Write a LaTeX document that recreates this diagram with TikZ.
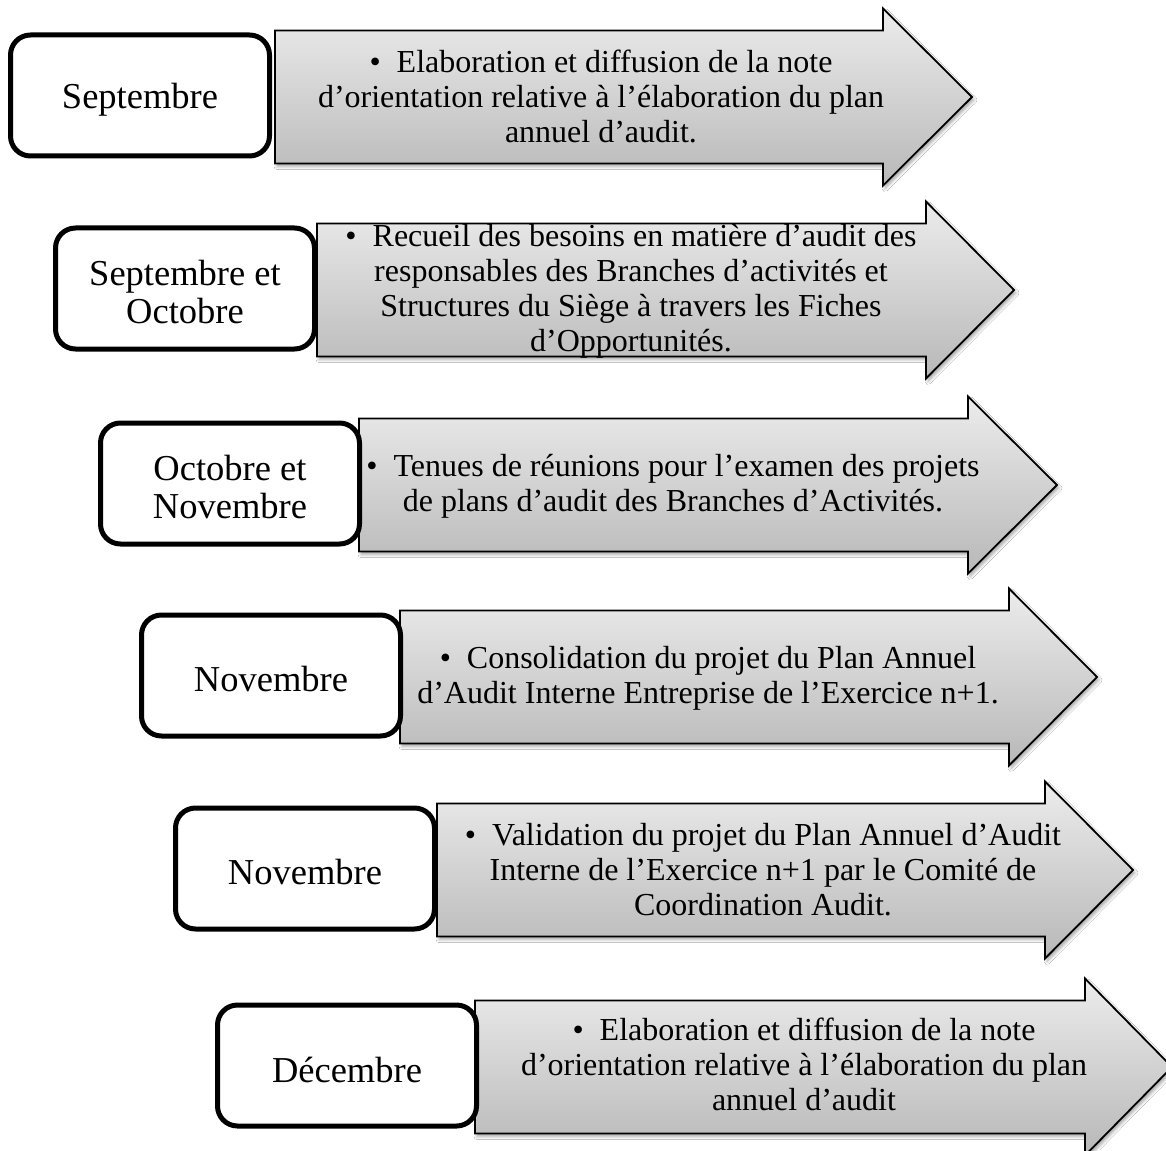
\documentclass[tikz,border=0pt]{standalone}
\usepackage{fontspec}
\setmainfont{Liberation Serif}
\usetikzlibrary{shadows.blur}

\definecolor{arrowtop}{RGB}{236,236,236}
\definecolor{arrowbot}{RGB}{184,184,184}

\tikzset{
  monthbox/.style={draw=black, line width=5pt, rounded corners=20pt, fill=white,
    minimum width=259pt, minimum height=121pt, inner sep=0pt},
  monthtext/.style={align=center, inner sep=0pt,
    font=\fontsize{36.5}{38}\selectfont},
  arrowshape/.style={draw=black, line width=1.8pt, line join=miter,
    top color=arrowtop, bottom color=arrowbot,
    blur shadow={shadow xshift=2pt, shadow yshift=-3pt, shadow blur radius=3pt, shadow opacity=35}},
  desctext/.style={align=center, inner sep=0pt, font=\fontsize{32}{35}\selectfont}
}

% one stage: #1 id, #2 box left, #3 body left, #4 head base, #5 tip, #6 centre y,
% #7 text centre, #8 month, #9 description
\newcommand\timelinerow[9]{%
  \path[arrowshape]
    (#3,#6-66.5) -- (#4,#6-66.5) -- (#4,#6-88.5) -- (#5,#6)
    -- (#4,#6+88.5) -- (#4,#6+66.5) -- (#3,#6+66.5) -- cycle;
  \node[monthbox] (m#1) at ({#2+132}, #6-1.5) {};
  \node[monthtext] (t#1) at ([yshift=-4pt]m#1.center) {#8};
  \node[desctext] (d#1) at (#7) {#9};
}

\begin{document}
\begin{tikzpicture}[x=1pt, y=-1pt]
  \useasboundingbox[fill=white] (0,0) rectangle (1166,1150);

  \timelinerow{1}{8}{275}{883}{972}{97}{601,96.5}{Septembre}
    {•\enspace Elaboration et diffusion de la note\\
     d’orientation relative à l’élaboration du plan\\
     annuel d’audit.}

  \timelinerow{2}{53}{317}{926}{1014}{290}{631,291}{Septembre et\\Octobre}
    {•\enspace Recueil des besoins en matière d’audit des\\
     responsables des Branches d’activités et\\
     Structures du Siège à travers les Fiches\\
     d’Opportunités.}

  \timelinerow{3}{98}{359}{968}{1057}{485}{673,486}{Octobre et\\Novembre}
    {•\enspace Tenues de réunions pour l’examen des projets\\
     de plans d’audit des Branches d’Activités.}

  \timelinerow{4}{139}{400}{1009}{1097}{677}{708,678.5}{Novembre}
    {•\enspace Consolidation du projet du Plan Annuel\\
     d’Audit Interne Entreprise de l’Exercice n+1.}

  \timelinerow{5}{173}{437}{1045}{1133}{870}{763,869.5}{Novembre}
    {•\enspace Validation du projet du Plan Annuel d’Audit\\
     Interne de l’Exercice n+1 par le Comité de\\
     Coordination Audit.}

  \timelinerow{6}{215}{475}{1085}{1172}{1067}{804,1064}{Décembre}
    {•\enspace Elaboration et diffusion de la note\\
     d’orientation relative à l’élaboration du plan\\
     annuel d’audit}
\end{tikzpicture}
\end{document}
